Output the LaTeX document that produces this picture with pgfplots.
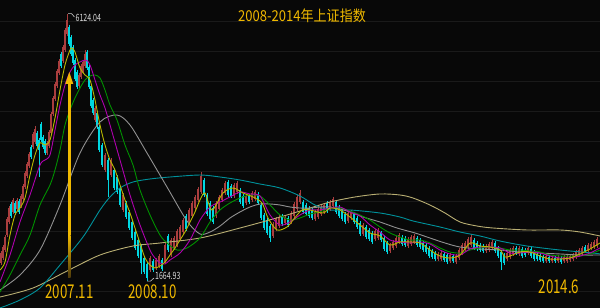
\documentclass[border=0pt]{standalone}
\usepackage{pgfplots}
\pgfplotsset{compat=1.18}
\usepackage{pgfplotstable}
\usepackage{fontspec}
\setmainfont{Noto Sans CJK SC}
\newfontfamily\titlefont[FakeStretch=0.87]{Noto Sans CJK SC}
\newfontfamily\labfont[FakeStretch=0.7]{Noto Sans CJK SC}
\definecolor{bg}{RGB}{8,8,8}
\definecolor{gridc}{RGB}{26,26,26}
\definecolor{upc}{RGB}{170,62,62}
\definecolor{dnc}{RGB}{0,215,225}
\definecolor{maA}{RGB}{185,185,0}
\definecolor{maB}{RGB}{175,0,175}
\definecolor{maC}{RGB}{0,145,0}
\definecolor{maD}{RGB}{145,145,145}
\definecolor{maE}{RGB}{0,145,155}
\definecolor{maF}{RGB}{185,175,115}
\definecolor{lab}{RGB}{240,185,0}
\definecolor{arrdark}{RGB}{80,60,10}

\pgfplotstableread{
x o h l c
1 1967 2170 1930 2133
3 2050 2270 2015 2233
5 2183 2435 2150 2400
7 2433 2735 2400 2700
9 2650 2920 2615 2883
11 2950 2985 2715 2750
13 2817 3050 2785 3017
15 2967 3000 2765 2800
17 2867 3050 2835 3017
19 3000 3035 2785 2817
21 2917 3120 2885 3083
23 3033 3285 3000 3250
25 3233 3500 3200 3467
27 3417 3650 3385 3617
29 3583 3815 3550 3783
31 3900 3935 3700 3733
33 3900 4150 3865 4117
35 3983 4250 3950 4200
37 4133 4165 3885 3917
39 4017 4050 3400 3850
41 4283 4320 3985 4017
43 4067 4100 3865 3900
45 4000 4035 3765 3800
47 3800 4000 3765 3967
49 3917 4185 3885 4150
51 4133 4485 4100 4450
53 4450 4750 4415 4717
55 4700 4985 4665 4950
57 4917 5200 4885 5167
59 5133 5370 5100 5333
61 5450 5485 5215 5250
63 5333 5600 5300 5567
65 5517 5885 5485 5850
67 5783 6124.04 5750 6017
69 5900 5935 5585 5617
71 5733 5765 5415 5450
73 5567 5600 5265 5300
75 5350 5385 5000 5033
77 5150 5185 4865 4900
79 4917 5135 4885 5100
81 5067 5285 5035 5250
83 5150 5350 5115 5317
85 5250 5517 5215 5450
87 5483 5520 5185 5217
89 5233 5265 4865 4900
91 4917 4950 4550 4583
93 4683 4715 4435 4467
95 4350 4585 4315 4550
97 4467 4500 4200 4233
99 4233 4265 3815 3850
102 3933 3965 3565 3600
105 3517 3800 3485 3767
108 3683 3715 3067 3350
111 3433 3715 3400 3683
114 3517 3550 3185 3217
117 3400 3435 3115 3150
120 3217 3250 2900 2933
123 2850 3135 2815 3100
126 2967 3000 2700 2733
129 2817 2850 2515 2550
132 2650 2685 2350 2383
135 2483 2515 2185 2217
138 2350 2385 2050 2083
141 2250 2285 1783 1967
144 2050 2085 1785 1817
147 1950 1985 1664.93 1717
150 1850 2085 1815 2050
153 2000 2035 1815 1850
156 1883 2050 1850 2017
159 1917 2115 1885 2083
162 2017 2050 1835 1867
165 1983 2300 1950 2267
168 2417 2450 2150 2183
171 2100 2385 2065 2350
174 2217 2415 2185 2383
177 2267 2535 2235 2500
180 2367 2600 2335 2567
183 2483 2715 2450 2683
186 2750 2785 2500 2533
189 2650 2885 2615 2850
192 2750 3000 2715 2967
195 2883 3100 2850 3067
198 3017 3235 2985 3200
201 3150 3478 3115 3417
204 3350 3385 3065 3100
207 3100 3135 2750 2783
210 2967 3000 2665 2700
213 2883 2915 2615 2650
216 2750 3000 2715 2967
219 2867 3100 2835 3067
222 3017 3215 2985 3183
225 3133 3335 3100 3300
228 3317 3350 3065 3100
231 3250 3285 3050 3083
234 3083 3300 3050 3267
237 3150 3335 3115 3300
240 3183 3215 2950 2983
243 3083 3115 2885 2917
246 2967 3115 2935 3083
249 3083 3115 2950 2983
252 3017 3165 2985 3133
255 3033 3185 3000 3150
258 3117 3150 2935 2967
261 2933 2965 2685 2717
264 2767 2800 2515 2550
267 2683 2715 2435 2467
270 2583 2615 2317 2383
273 2417 2650 2385 2617
276 2533 2735 2500 2700
279 2583 2765 2550 2733
282 2750 2785 2585 2617
285 2633 2765 2600 2733
288 2717 2750 2565 2600
291 2650 2835 2615 2800
294 2750 2985 2715 2950
297 2867 3100 2835 3067
300 2983 3185 2950 3133
303 2983 3015 2785 2817
306 2933 2965 2750 2783
309 2883 2915 2715 2750
312 2850 2885 2685 2717
315 2700 2850 2665 2817
318 2733 2900 2700 2867
321 2783 2935 2750 2900
324 2817 2965 2785 2933
327 2967 3000 2800 2833
330 2867 3015 2835 2983
333 2917 3067 2885 3033
336 2983 3015 2785 2817
339 2900 2935 2715 2750
342 2833 2865 2665 2700
345 2783 2815 2615 2650
348 2667 2835 2635 2800
351 2717 2850 2685 2817
354 2783 2815 2615 2650
357 2717 2750 2535 2567
360 2633 2665 2415 2450
363 2450 2635 2415 2600
366 2567 2600 2365 2400
369 2517 2550 2335 2367
372 2467 2500 2285 2317
375 2367 2535 2335 2500
378 2383 2550 2350 2517
381 2467 2500 2315 2350
384 2383 2415 2165 2200
387 2300 2335 2115 2150
390 2167 2300 2135 2267
393 2217 2350 2185 2317
396 2250 2415 2215 2383
399 2317 2465 2285 2433
402 2400 2435 2250 2283
405 2383 2415 2235 2267
408 2250 2400 2215 2367
411 2283 2435 2250 2400
414 2317 2450 2285 2417
417 2383 2415 2235 2267
420 2350 2385 2200 2233
423 2300 2335 2150 2183
426 2267 2300 2115 2150
429 2217 2250 2050 2083
432 2167 2200 2035 2067
435 2133 2165 2000 2033
438 2033 2150 2000 2117
441 2033 2165 2000 2133
444 2117 2150 1985 2017
447 2100 2135 1950 1983
450 2000 2135 1967 2100
453 2083 2115 1967 2000
456 1983 2115 1950 2083
459 2050 2215 2017 2183
462 2133 2300 2100 2267
465 2183 2335 2150 2300
468 2233 2400 2200 2367
471 2267 2444 2235 2400
474 2350 2385 2185 2217
477 2300 2335 2167 2200
480 2267 2300 2150 2183
483 2250 2283 2135 2167
486 2167 2283 2135 2250
489 2183 2317 2150 2283
492 2217 2350 2185 2317
495 2300 2335 2135 2167
498 2217 2250 2050 2083
501 2150 2183 1849 1983
504 2100 2133 1935 1967
507 2033 2167 2000 2133
510 2067 2217 2035 2183
513 2117 2250 2085 2217
516 2217 2250 2100 2133
519 2117 2250 2085 2217
522 2200 2233 2050 2083
525 2183 2217 2067 2100
528 2133 2250 2100 2217
531 2200 2233 2050 2083
534 2150 2183 2000 2033
537 2117 2150 2000 2033
540 2100 2133 1985 2017
543 2067 2100 1967 2000
546 2000 2117 1967 2083
549 2067 2100 1967 2000
552 2000 2083 1974 2050
555 2050 2083 1967 2000
558 2000 2100 1967 2067
561 2050 2083 1950 1983
564 2000 2100 1967 2067
567 2000 2100 1967 2067
570 2017 2117 1985 2083
573 2033 2133 2000 2100
576 2067 2183 2035 2150
579 2100 2217 2067 2183
582 2133 2250 2100 2217
585 2233 2267 2135 2167
588 2183 2300 2150 2267
591 2217 2317 2185 2283
594 2233 2350 2200 2317
597 2250 2400 2217 2367
}\candles

\begin{document}
\begin{tikzpicture}
\fill[bg] (0,0) rectangle (600pt,308pt);
\begin{axis}[
  at={(0,0)}, anchor=south west,
  width=600pt, height=308pt, scale only axis,
  xmin=0, xmax=600, ymin=1216.7, ymax=6350,
  axis line style={draw=none},
  xtick=\empty, ytick={1500,2000,...,6000}, yticklabels={},
  ymajorgrids, major grid style={draw=gridc, line width=0.8pt},
  major tick length=0pt,
  clip=true,
]
% wicks
\addplot[draw=upc, line width=0.6pt, mark=none, forget plot,
  quiver={u=0, v=\thisrow{h}-\thisrow{l}},
  x filter/.expression={\thisrow{c}>=\thisrow{o} ? x : nan}]
  table[x=x, y=l] {\candles};
\addplot[draw=dnc, line width=0.6pt, mark=none, forget plot,
  quiver={u=0, v=\thisrow{h}-\thisrow{l}},
  x filter/.expression={\thisrow{c}<\thisrow{o} ? x : nan}]
  table[x=x, y=l] {\candles};
% bodies
\addplot[draw=upc, line width=1.6pt, mark=none, forget plot,
  quiver={u=0, v=\thisrow{c}-\thisrow{o}},
  x filter/.expression={\thisrow{c}>=\thisrow{o} ? x : nan}]
  table[x=x, y=o] {\candles};
\addplot[draw=dnc, line width=1.6pt, mark=none, forget plot,
  quiver={u=0, v=\thisrow{c}-\thisrow{o}},
  x filter/.expression={\thisrow{c}<\thisrow{o} ? x : nan}]
  table[x=x, y=o] {\candles};

% MA250 khaki
\addplot[maF, line width=0.9pt, smooth, mark=none] coordinates {
(0,1400)(33,1550)(67,1833)(100,2100)(133,2250)(160,2300)(200,2383)(240,2550)(280,2733)(310,2883)(330,2983)(355,3067)(380,3117)(400,3100)(413,3050)(430,2933)(445,2800)(460,2650)(477,2583)(493,2550)(527,2517)(560,2517)(580,2483)(600,2417)};
% MA120 teal
\addplot[maE, line width=0.9pt, smooth, mark=none] coordinates {
(0,1217)(20,1350)(40,1550)(60,1933)(83,2400)(100,2850)(110,3067)(120,3217)(133,3317)(150,3367)(170,3400)(200,3433)(220,3400)(240,3350)(260,3283)(280,3217)(300,3083)(315,2933)(330,2850)(350,2850)(380,2800)(400,2733)(413,2667)(440,2567)(460,2483)(480,2417)(500,2333)(527,2250)(560,2183)(593,2133)(600,2117)};
% MA60 gray
\addplot[maD, line width=0.9pt, smooth, mark=none] coordinates {
(0,1517)(20,1767)(40,2183)(60,2933)(80,3800)(100,4317)(117,4433)(130,4267)(147,3800)(167,3233)(187,2667)(200,2450)(210,2483)(220,2583)(230,2717)(240,2817)(250,2900)(260,2950)(270,2950)(280,2933)(290,2900)(300,2883)(310,2883)(320,2900)(330,2900)(340,2867)(350,2817)(363,2733)(380,2650)(397,2550)(415,2467)(430,2383)(445,2300)(460,2233)(480,2200)(500,2183)(520,2150)(540,2133)(560,2117)(580,2100)(600,2100)};
% MA30 green
\addplot[maC, line width=0.9pt, smooth, mark=none] coordinates {
(0,1483)(10,1767)(20,2100)(30,2433)(40,2933)(50,3267)(55,3517)(60,3850)(65,4267)(70,4517)(75,4717)(80,4883)(85,5017)(90,5083)(95,5100)(100,5050)(105,4850)(110,4600)(117,4350)(125,3933)(133,3600)(140,3183)(150,2767)(160,2433)(167,2300)(177,2183)(187,2217)(200,2383)(210,2650)(220,2850)(230,2967)(240,3050)(250,3100)(260,3083)(270,2933)(280,2767)(290,2683)(300,2717)(310,2783)(320,2817)(330,2883)(340,2883)(350,2833)(360,2767)(370,2683)(380,2567)(390,2467)(400,2400)(410,2350)(420,2350)(430,2300)(440,2217)(450,2150)(460,2133)(470,2183)(480,2217)(490,2233)(500,2217)(510,2183)(520,2183)(530,2167)(540,2150)(550,2100)(560,2083)(570,2083)(580,2083)(590,2117)(600,2183)};
% MA20 magenta
\addplot[maB, line width=0.9pt, smooth, mark=none] coordinates {
(0,1650)(10,2100)(20,2650)(30,3100)(40,3600)(45,3683)(50,3767)(55,4183)(60,4600)(65,4933)(70,5150)(75,5267)(80,5317)(86,5350)(90,5267)(95,5017)(100,4767)(105,4550)(110,4267)(120,3683)(130,3100)(140,2600)(150,2183)(155,2050)(160,1967)(165,1950)(170,2017)(180,2133)(190,2350)(200,2683)(210,2900)(220,2983)(230,3067)(240,3150)(250,3117)(260,3083)(270,2767)(280,2600)(290,2650)(300,2767)(310,2850)(320,2850)(330,2883)(340,2900)(350,2817)(360,2750)(370,2600)(380,2483)(390,2350)(400,2317)(410,2300)(420,2317)(430,2283)(440,2183)(450,2117)(460,2100)(470,2200)(480,2233)(490,2233)(500,2217)(510,2133)(520,2133)(530,2150)(540,2133)(550,2083)(560,2050)(570,2050)(580,2083)(590,2133)(600,2217)};
% MA10 yellow
\addplot[maA, line width=0.9pt, smooth, mark=none] coordinates {
(0,1850)(5,1983)(10,2433)(15,2767)(20,2883)(25,3050)(30,3433)(35,3767)(40,3967)(45,3933)(50,4017)(55,4383)(60,4850)(65,5267)(70,5517)(72,5550)(75,5483)(80,5217)(85,5100)(90,5017)(95,4683)(100,4267)(105,3933)(110,3683)(115,3517)(120,3267)(125,3017)(130,2800)(135,2550)(140,2300)(145,2050)(150,1933)(155,1883)(160,1917)(165,1983)(170,2100)(175,2217)(180,2350)(185,2483)(190,2650)(195,2817)(200,3017)(205,3133)(212,2850)(223,3133)(233,3217)(243,3133)(253,3067)(262,2967)(268,2717)(277,2517)(287,2567)(293,2683)(302,2850)(310,2850)(323,2800)(330,2883)(340,2850)(350,2733)(360,2600)(370,2467)(380,2417)(390,2267)(400,2317)(410,2317)(420,2300)(430,2183)(440,2083)(450,2050)(460,2100)(470,2300)(480,2250)(490,2233)(500,2183)(505,2067)(510,2083)(520,2150)(530,2150)(540,2083)(550,2033)(560,2033)(570,2050)(580,2117)(590,2200)(600,2300)};

% arrow
\fill[lab] (axis cs:68.0,4983) rectangle (axis cs:70.6,2433);
\shade[top color=lab, bottom color=arrdark] (axis cs:68.0,2433) rectangle (axis cs:70.6,1733);
\fill[lab] (axis cs:69.3,5150) -- (axis cs:73.3,4950) -- (axis cs:65.3,4950) -- cycle;

% extreme labels
\draw[white!80!black, line width=0.6pt] (axis cs:68,6124) -- (axis cs:71.5,6124) -- (axis cs:74.5,6067);
\node[anchor=west, inner sep=0pt, text=white!85!black, font=\labfont\fontsize{10}{10}\selectfont] at (axis cs:75.5,6050) {6124.04};
\draw[white!80!black, line width=0.6pt] (axis cs:147,1665) -- (axis cs:150.5,1665) -- (axis cs:154,1717);
\node[anchor=west, inner sep=0pt, text=white!85!black, font=\labfont\fontsize{10}{10}\selectfont] at (axis cs:155,1750) {1664.93};

% texts
\node[text=lab, inner sep=0pt, font=\titlefont\fontsize{15}{15}\selectfont] at (axis cs:302,6083) {2008-2014年上证指数};
\node[text=lab, inner sep=0pt, font=\labfont\fontsize{19}{19}\selectfont] at (axis cs:69.5,1483) {2007.11};
\node[text=lab, inner sep=0pt, font=\labfont\fontsize{19}{19}\selectfont] at (axis cs:152.5,1483) {2008.10};
\node[text=lab, inner sep=0pt, font=\labfont\fontsize{19}{19}\selectfont] at (axis cs:559,1567) {2014.6};
\end{axis}
\pgfresetboundingbox
\path (0,0) rectangle (600pt,308pt);
\end{tikzpicture}
\end{document}
